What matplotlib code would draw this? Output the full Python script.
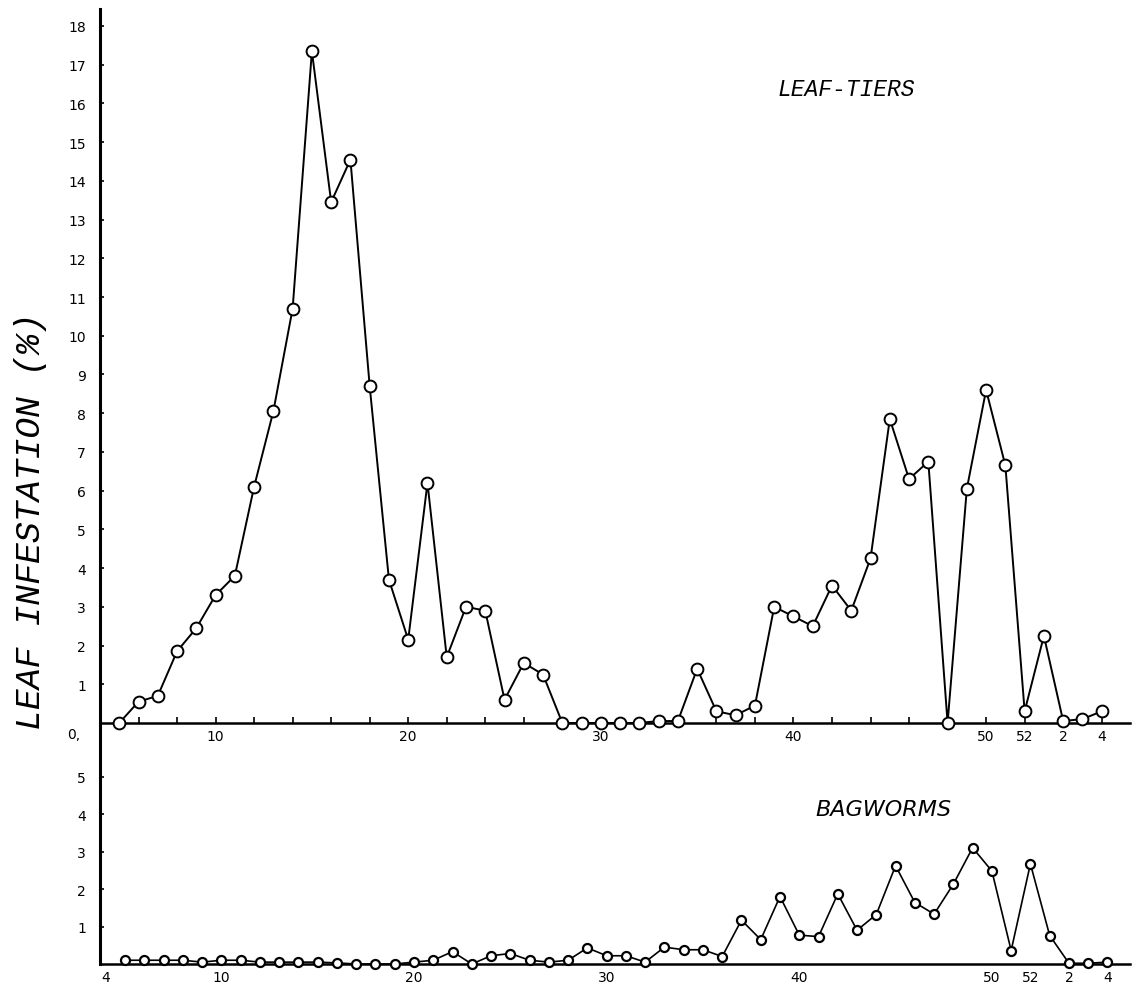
import matplotlib
matplotlib.use('Agg')
import matplotlib.pyplot as plt

## weekly samples, week 5 of year one up to week 4 of the next (56)
WEEKS = list(range(5, 57))

LEAF_TIERS = [0.0, 0.55, 0.7, 1.85, 2.45, 3.3, 3.8, 6.1, 8.05, 10.7,
              17.35, 13.45, 14.55, 8.7, 3.7, 2.15, 6.2, 1.7, 3.0, 2.9,
              0.6, 1.55, 1.25, 0.0, 0.0, 0.0, 0.0, 0.0, 0.05, 0.05,
              1.4, 0.3, 0.2, 0.45, 3.0, 2.75, 2.5, 3.55, 2.9, 4.25,
              7.85, 6.3, 6.75, 0.0, 6.05, 8.6, 6.65, 0.3, 2.25, 0.05,
              0.1, 0.3]

BAGWORMS = [0.1, 0.1, 0.1, 0.1, 0.05, 0.1, 0.1, 0.05, 0.05, 0.05,
            0.05, 0.03, 0.0, 0.0, 0.0, 0.05, 0.1, 0.33, 0.0, 0.22,
            0.28, 0.1, 0.05, 0.1, 0.43, 0.22, 0.22, 0.05, 0.45, 0.38,
            0.38, 0.2, 1.17, 0.65, 1.8, 0.77, 0.73, 1.87, 0.9, 1.32,
            2.62, 1.64, 1.33, 2.13, 3.1, 2.48, 0.36, 2.67, 0.76, 0.02,
            0.02, 0.05]

TOP_XTICKS = [10, 20, 30, 40, 50, 52, 54, 56]
TOP_XLABELS = ['10', '20', '30', '40', '50', '52', '2', '4']
BOT_XTICKS = [4, 10, 20, 30, 40, 50, 52, 54, 56]
BOT_XLABELS = ['4', '10', '20', '30', '40', '50', '52', '2', '4']
TOP_YTICKS = list(range(1, 19))
BOT_YTICKS = [1, 2, 3, 4, 5]

assert len(WEEKS) == len(LEAF_TIERS) == len(BAGWORMS)


def style_axis(ax):
    ax.spines['top'].set_visible(False)
    ax.spines['right'].set_visible(False)
    ax.spines['left'].set_linewidth(2.2)
    ax.spines['bottom'].set_linewidth(1.8)
    ax.tick_params(axis='y', direction='in', length=3, width=1.2, labelsize=10, pad=10)
    ax.tick_params(axis='x', direction='in', length=4, width=1.2, labelsize=10, pad=4)


fig = plt.figure(figsize=(11.35, 9.95), dpi=100)

## lower panel first so the upper panel's tick labels stay on top of it
bot = fig.add_axes([0.0881, 0.03015, 0.9075, 0.2412])
bot.patch.set_visible(False)
bot.plot(WEEKS, BAGWORMS, '-', color='black', lw=1.2, marker='o', ms=6.5,
         mfc='white', mec='black', mew=1.6, clip_on=False, zorder=3)
bot.set_xlim(3.7, 57.17)   # hand drawing sits a touch to the right
bot.set_ylim(0, 6.4)
bot.set_yticks(BOT_YTICKS)
bot.set_yticklabels([str(v) for v in BOT_YTICKS])
bot.set_xticks(BOT_XTICKS)
bot.set_xticklabels(BOT_XLABELS)
style_axis(bot)
bot.tick_params(axis='x', length=0)
bot.text(0.695, 0.62, 'BAGWORMS', transform=bot.transAxes, fontsize=16,
         family='DejaVu Sans', style='italic')

## upper panel: leaf-tiers
top = fig.add_axes([0.0881, 0.2724, 0.9075, 0.7176])
top.patch.set_visible(False)
top.plot(WEEKS, LEAF_TIERS, '-', color='black', lw=1.4, marker='o', ms=8.5,
         mfc='white', mec='black', mew=1.4, clip_on=False, zorder=3)
top.set_xlim(4, 57.47)
top.set_ylim(0, 18.44)
top.set_yticks(TOP_YTICKS)
top.set_yticklabels([str(v) for v in TOP_YTICKS])
top.set_xticks(TOP_XTICKS)
top.set_xticklabels(TOP_XLABELS)
top.set_xticks(list(range(6, 57, 2)), minor=True)
style_axis(top)
top.tick_params(axis='x', which='minor', direction='in', length=4, width=1.2)
top.text(-0.032, -0.006, '0,', transform=top.transAxes, ha='left', va='top', fontsize=10)
top.text(0.658, 0.88, 'LEAF-TIERS', transform=top.transAxes, fontsize=16.5,
         family='Liberation Mono', style='italic')

fig.text(0.027, 0.476, 'LEAF INFESTATION (%)', rotation=90, ha='center', va='center',
         fontsize=25, family='Liberation Mono', style='italic')

fig.savefig('out.png', dpi=100)
